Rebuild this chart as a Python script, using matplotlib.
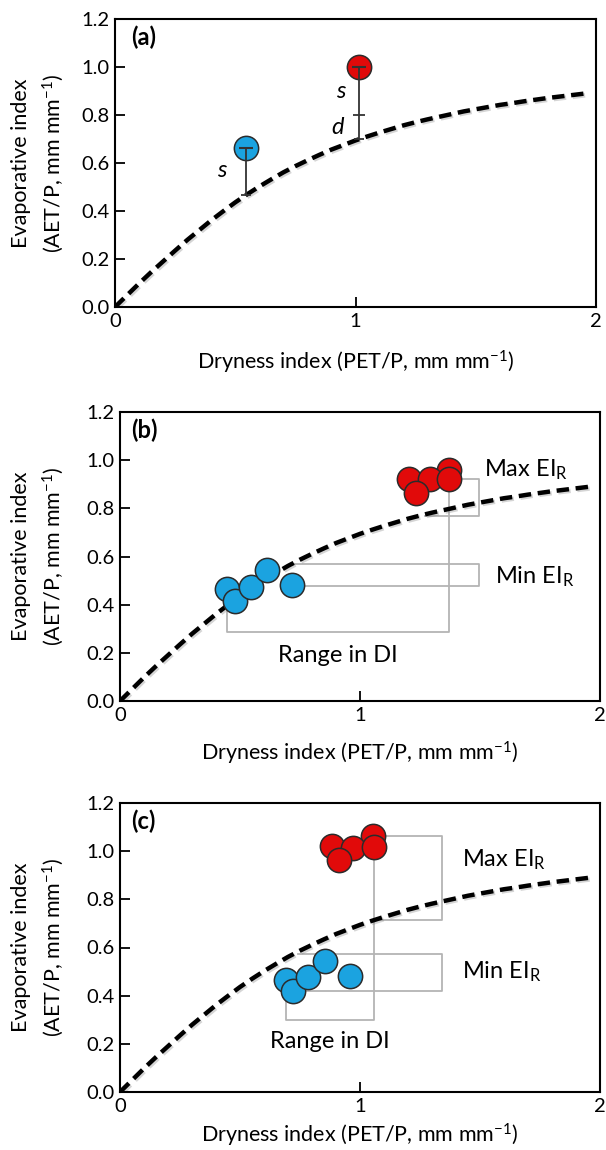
import matplotlib
matplotlib.use("Agg")
import matplotlib.pyplot as plt
import matplotlib.patheffects as pe
import numpy as np

plt.rcParams['font.family'] = ['Lato', 'DejaVu Sans']
plt.rcParams['mathtext.fontset'] = 'custom'
plt.rcParams['mathtext.rm'] = 'Lato'
plt.rcParams['mathtext.it'] = 'Lato:italic'
plt.rcParams['mathtext.bf'] = 'Lato:bold'

# ---------------- data ----------------
curve_di = [0.00, 0.05, 0.10, 0.15, 0.20, 0.25, 0.30, 0.35, 0.40, 0.45,
            0.50, 0.55, 0.60, 0.65, 0.70, 0.75, 0.80, 0.85, 0.90, 0.95,
            1.00, 1.05, 1.10, 1.15, 1.20, 1.25, 1.30, 1.35, 1.40, 1.45,
            1.50, 1.55, 1.60, 1.65, 1.70, 1.75, 1.80, 1.85, 1.90, 1.95]
curve_ei = [0.000, 0.049, 0.098, 0.145, 0.190, 0.235, 0.279, 0.320, 0.361, 0.399,
            0.436, 0.470, 0.502, 0.532, 0.561, 0.587, 0.611, 0.634, 0.656, 0.675,
            0.694, 0.711, 0.727, 0.742, 0.757, 0.770, 0.782, 0.793, 0.804, 0.815,
            0.824, 0.833, 0.842, 0.849, 0.857, 0.864, 0.871, 0.877, 0.883, 0.889]

# panel (a)
a_blue_di = [0.545]
a_blue_ei = [0.664]
a_red_di = [1.015]
a_red_ei = [1.000]
a_red_split = 0.80   # boundary between s and d

# panel (b)
b_blue_di = [0.444, 0.479, 0.545, 0.611, 0.717]
b_blue_ei = [0.464, 0.417, 0.472, 0.545, 0.482]
b_red_di = [1.370, 1.203, 1.292, 1.233, 1.372]
b_red_ei = [0.961, 0.922, 0.920, 0.864, 0.920]

# panel (c)
c_blue_di = [0.690, 0.722, 0.785, 0.854, 0.958]
c_blue_ei = [0.465, 0.421, 0.477, 0.546, 0.483]
c_red_di = [1.055, 0.882, 0.972, 0.912, 1.060]
c_red_ei = [1.065, 1.021, 1.014, 0.965, 1.018]

xticks = [0, 1, 2]
xticklabels = ['0', '1', '2']
yticks = [0.0, 0.2, 0.4, 0.6, 0.8, 1.0, 1.2]
yticklabels = ['0.0', '0.2', '0.4', '0.6', '0.8', '1.0', '1.2']

BLUE = '#1BA3E0'
RED = '#E10A0A'
EDGE = '#2b2b2b'
GRAY = '#b4b4b4'

W, H = 606, 1150
fig = plt.figure(figsize=(W / 100, H / 100), dpi=100)

def px_axes(left, right, top, bottom):
    return fig.add_axes([left / W, 1 - bottom / H, (right - left) / W, (bottom - top) / H])

axes_px = [(115, 596, 19, 307), (120, 600, 412, 701), (120, 600, 803, 1092)]
xlabel_off = [55, 52, 43]
labels = ['(a)', '(b)', '(c)']
label_x = [0.033, 0.024, 0.024]
axs = []
for (l, r, t, b), lab, lx, xo in zip(axes_px, labels, label_x, xlabel_off):
    ax = px_axes(l, r, t, b)
    ax.set_xlim(0, 2)
    ax.set_ylim(0, 1.2)
    ax.set_xticks(xticks)
    ax.set_xticklabels(xticklabels)
    ax.set_yticks(yticks)
    ax.set_yticklabels(yticklabels)
    ax.tick_params(direction='in', length=7, width=1.3, labelsize=14.5, pad=4,
                   colors='black')
    for sp in ax.spines.values():
        sp.set_linewidth(1.5)
    ax.plot(curve_di, curve_ei, color='black', lw=3.2, dashes=(2.8, 1.5),
            zorder=2, solid_capstyle='butt',
            path_effects=[pe.SimpleLineShadow(offset=(1.2, -1.2), shadow_color='#888888', alpha=0.35),
                          pe.Normal()])
    ax.text(lx, 0.935, lab, transform=ax.transAxes,
            fontsize=17, fontweight='bold', ha='left', va='center')
    # axis labels
    cy = (t + b) / 2
    fig.text(21 / W, 1 - cy / H, 'Evaporative index', rotation=90, fontsize=15.5,
             ha='center', va='center')
    fig.text(53 / W, 1 - cy / H, '(AET/P, mm mm$^{\u2212 1}$)', rotation=90, fontsize=15.5,
             ha='center', va='center')
    fig.text(((l + r) / 2) / W, 1 - (b + xo) / H, 'Dryness index (PET/P, mm mm$^{\u2212 1}$)',
             fontsize=15.5, ha='center', va='center')
    axs.append(ax)

mk = dict(marker='o', ms=17.5, mec=EDGE, mew=1.1, linestyle='none', zorder=4)

def curve_at(x):
    return float(np.interp(x, curve_di, curve_ei))

# ---------------- panel (a) ----------------
ax = axs[0]
bx, by = a_blue_di[0], a_blue_ei[0]
rx, ry = a_red_di[0], a_red_ei[0]
ax.plot(a_blue_di, a_blue_ei, color=BLUE, **mk)
ax.plot(a_red_di, a_red_ei, color=RED, **mk)
bar_kw = dict(color='#333333', lw=1.3, zorder=5)
ax.plot([bx, bx], [by, curve_at(bx)], **bar_kw)
ax.plot([bx], [by], marker='_', ms=10, mew=1.5, color='#333333', zorder=5)
ax.plot([bx], [curve_at(bx)], marker='_', ms=7, mew=1.3, color='#333333', zorder=5)
ax.plot([rx, rx], [ry, curve_at(rx)], **bar_kw)
ax.plot([rx], [ry], marker='_', ms=10, mew=1.5, color='#333333', zorder=5)
ax.plot([rx], [a_red_split], marker='_', ms=9, mew=1.3, color='#333333', zorder=5)
ax.plot([rx], [curve_at(rx)], marker='_', ms=7, mew=1.3, color='#333333', zorder=5)
ax.text(bx - 0.1, (by + curve_at(bx)) / 2 + 0.005, 's', style='italic', fontsize=17,
        ha='center', va='center')
ax.text(rx - 0.075, (ry + a_red_split) / 2 - 0.003, 's', style='italic', fontsize=17,
        ha='center', va='center')
ax.text(rx - 0.09, (a_red_split + curve_at(rx)) / 2 - 0.0, 'd', style='italic', fontsize=17,
        ha='center', va='center')

gkw = dict(color=GRAY, lw=1.3, zorder=1)
ann_fs = 17

# ---------------- panel (b) ----------------
ax = axs[1]
bx0, by0 = b_blue_di[0], b_blue_ei[0]
rx4, ry4 = b_red_di[4], b_red_ei[4]
ax.plot([bx0, bx0, rx4, rx4], [by0, 0.285, 0.285, ry4], **gkw)
bx5, by5 = b_blue_di[4], b_blue_ei[4]
ax.plot([bx5, 1.496, 1.496, bx5], [by5 - 0.003, by5 - 0.003, curve_at(bx5), curve_at(bx5)], **gkw)
ax.plot([rx4, 1.496, 1.496, 1.27], [ry4, ry4, 0.770, 0.770], **gkw)
for x, y in zip(b_blue_di, b_blue_ei):
    ax.plot([x], [y], color=BLUE, **mk)
for x, y in zip(b_red_di, b_red_ei):
    ax.plot([x], [y], color=RED, **mk)
ax.text(1.515, 0.962, 'Max EI$_{\\mathrm{R}}$', fontsize=ann_fs, ha='left', va='center')
ax.text(1.562, 0.518, 'Min EI$_{\\mathrm{R}}$', fontsize=ann_fs, ha='left', va='center')
ax.text(0.907, 0.19, 'Range in DI', fontsize=ann_fs, ha='center', va='center')

# ---------------- panel (c) ----------------
ax = axs[2]
cx0, cy0 = c_blue_di[0], c_blue_ei[0]
crx, cry = c_red_di[4], c_red_ei[4]
ax.plot([cx0, cx0, crx, crx], [cy0, 0.30, 0.30, cry], **gkw)
cx1, cy1 = c_blue_di[1], c_blue_ei[1]
ax.plot([cx1, 1.343, 1.343, cx1 + 0.02], [cy1, cy1, 0.574, 0.574], **gkw)
ctx, cty = c_red_di[0], c_red_ei[0]
ax.plot([ctx, 1.343, 1.343, crx], [cty - 0.003, cty - 0.003, curve_at(crx), curve_at(crx)], **gkw)
for x, y in zip(c_blue_di, c_blue_ei):
    ax.plot([x], [y], color=BLUE, **mk)
for x, y in zip(c_red_di, c_red_ei):
    ax.plot([x], [y], color=RED, **mk)
ax.text(1.424, 0.965, 'Max EI$_{\\mathrm{R}}$', fontsize=ann_fs, ha='left', va='center')
ax.text(1.424, 0.50, 'Min EI$_{\\mathrm{R}}$', fontsize=ann_fs, ha='left', va='center')
ax.text(0.875, 0.208, 'Range in DI', fontsize=ann_fs, ha='center', va='center')

fig.savefig('out.png', dpi=100)
